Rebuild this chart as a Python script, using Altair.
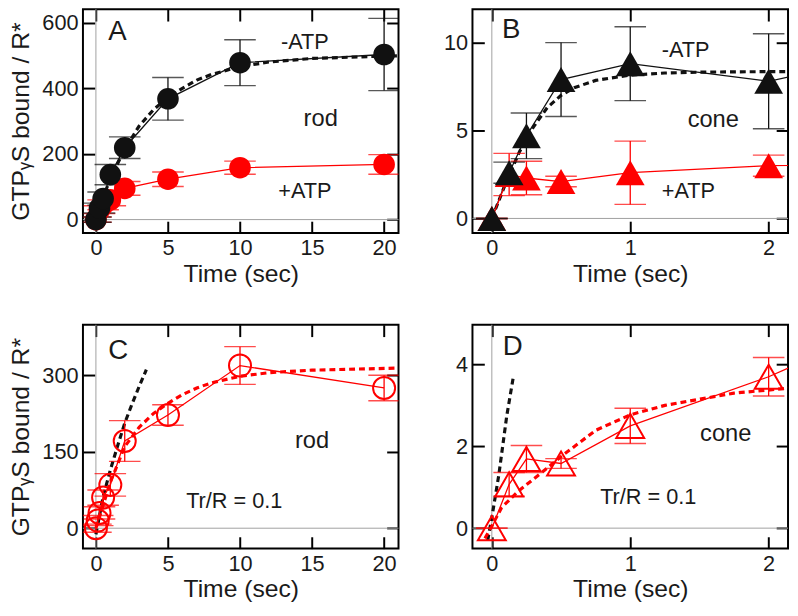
import altair as alt
import pandas as pd

FONT = "Liberation Sans"
RED = "#ff0000"
BLACK = "#111111"
GRAY = "#a0a0a0"
YTITLE = "GTPᵧS bound / R*"

# ---------------- data ----------------
# Panel A (rod, -ATP / +ATP)
a_time = [0, 0.25, 0.5, 1, 2, 5, 10, 20]
a_minus_atp = [0, 35, 64, 137, 219, 368, 478, 503]
a_minus_err = [8, 15, 20, 31, 33, 65, 70, 110]
a_plus_atp = [0, 30, 45, 60, 95, 123, 158, 168]
a_plus_err = [8, 12, 15, 18, 21, 22, 20, 30]
a_fit_time = [0, 0.5, 1, 2, 3, 4, 5, 6, 7, 8, 10, 12, 15, 20, 21]
a_fit_value = [0, 67, 125, 215, 285, 335, 372, 400, 425, 442, 466, 480, 491, 498, 499]

# Panel B (cone, -ATP / +ATP)
b_time = [0, 0.125, 0.25, 0.5, 1, 2, 3]
b_minus_atp = [0, 2.6, 4.7, 7.9, 8.8, 7.8, 9.5]
b_minus_err = [0, 0.6, 1.3, 2.1, 2.1, 2.7, 0]
b_plus_atp = [0, 2.5, 2.3, 2.1, 2.6, 3.0, 3.1]
b_plus_err = [0, 1.2, 0.95, 0.3, 1.8, 0.6, 0]
b_fit_time = [0, 0.1, 0.2, 0.3, 0.4, 0.5, 0.6, 0.75, 1.0, 1.25, 1.5, 2.0, 2.15]
b_fit_value = [0, 2.0, 3.8, 5.2, 6.3, 7.0, 7.45, 7.85, 8.15, 8.27, 8.32, 8.35, 8.35]

# Panel C (rod, Tr/R = 0.1)
c_time = [0, 0.125, 0.25, 0.5, 1, 2, 5, 10, 20]
c_value = [0, 15, 30, 60, 85, 171, 222, 319, 275]
c_err = [8, 10, 12, 15, 22, 40, 20, 37, 25]
c_fit_time = [0, 0.5, 1, 2, 3, 4, 5, 6, 7, 8, 10, 12, 15, 21]
c_fit_value = [0, 45, 90, 160, 198, 225, 245, 262, 275, 285, 298, 305, 310, 314]
c_init_time = [0, 0.5, 1, 1.5, 2, 2.5, 3, 3.5]
c_init_value = [-12, 62, 114, 161, 206, 243, 278, 311]

# Panel D (cone, Tr/R = 0.1)
d_time = [0, 0.125, 0.25, 0.5, 1, 2, 3]
d_value = [0, 1.07, 1.69, 1.58, 2.5, 3.7, 5.2]
d_err = [0, 0.29, 0.33, 0.12, 0.43, 0.47, 0]
d_fit_time = [-0.05, 0, 0.07, 0.19, 0.35, 0.52, 0.75, 1.0, 1.25, 1.5, 1.75, 2.15]
d_fit_value = [-0.25, 0.05, 0.5, 0.9, 1.33, 1.8, 2.39, 2.77, 3.0, 3.15, 3.3, 3.42]
d_init_time = [-0.03, 0, 0.05, 0.108, 0.155]
d_init_value = [-0.3, 0.26, 1.29, 2.75, 3.69]

x_ticks_rod = [0, 5, 10, 15, 20]
x_ticks_cone = [0, 1, 2]
y_ticks_a = [0, 200, 400, 600]
y_ticks_b = [0, 5, 10]
y_ticks_c = [0, 150, 300]
y_ticks_d = [0, 2, 4]

W = 320
H = 227
CAP = 32
ONE = pd.DataFrame({"k": [0]})


def series_df(t, v, err=None):
    d = {"t": t, "v": v}
    if err is not None:
        d["lo"] = [a - b for a, b in zip(v, err)]
        d["hi"] = [a + b for a, b in zip(v, err)]
    return pd.DataFrame(d)


def make_panel(xdom, ydom, xticks, yticks, ytitle, layers_fn, texts):
    xs = alt.Scale(domain=xdom, nice=False, zero=False)
    ys = alt.Scale(domain=ydom, nice=False, zero=False)
    common = dict(domain=False, grid=False, tickSize=12, offset=-12,
                  tickColor="black", tickWidth=2, minExtent=0)
    lab = dict(labelFont=FONT, labelFontSize=22, labelColor="#1a1a1a",
               labelPadding=5, labelFlush=False, labelOverlap=False,
               titleFont=FONT, titleFontSize=25, titleFontWeight="normal",
               titleColor="#1a1a1a")
    ax_bottom = alt.Axis(orient="bottom", values=xticks, title="Time (sec)",
                         titlePadding=3, **common, **lab)
    if ytitle:
        ax_left = alt.Axis(orient="left", values=yticks, title=ytitle,
                           titlePadding=8, **common, **lab)
    else:
        ax_left = alt.Axis(orient="left", values=yticks, title=None,
                           **common, **lab)
    ax_top = alt.Axis(orient="top", values=xticks, labels=False, title=None, **common)
    ax_right = alt.Axis(orient="right", values=yticks, labels=False, title=None, **common)

    def X(axis=None):
        return alt.X("t:Q", scale=xs, axis=axis)

    def Y(field="v", axis=None):
        return alt.Y(f"{field}:Q", scale=ys, axis=axis)

    layers = []
    # zero lines
    layers.append(alt.Chart(ONE).mark_rule(color=GRAY, strokeWidth=1).encode(
        y=alt.YDatum(0, scale=ys, axis=None)))
    layers.append(alt.Chart(ONE).mark_rule(color=GRAY, strokeWidth=1).encode(
        x=alt.XDatum(0, scale=xs, axis=None)))
    layers += layers_fn(X, Y, ax_bottom, ax_left, ax_top, ax_right)
    for txt, tx, ty, size in texts:
        layers.append(alt.Chart(ONE).mark_text(
            text=txt, font=FONT, fontSize=size, color="#1a1a1a",
            align="center", baseline="middle").encode(
            x=alt.XDatum(tx, scale=xs, axis=None),
            y=alt.YDatum(ty, scale=ys, axis=None)))
    return alt.layer(*layers).resolve_axis(x="independent", y="independent").properties(
        width=W, height=H)


def line(df, X, Y, color, dashed=False, axes=None):
    kw = dict(color=color, clip=True)
    if dashed:
        kw.update(strokeWidth=3.2, strokeDash=[6, 4])
    else:
        kw.update(strokeWidth=1.3)
    if axes:
        enc = dict(x=X(axes[0]), y=Y("v", axes[1]))
    else:
        enc = dict(x=X(), y=Y())
    return alt.Chart(df).mark_line(**kw).encode(**enc, order="t:Q")


def errbars(df, X, Y, color):
    r = alt.Chart(df).mark_rule(color=color, strokeWidth=1.3, clip=True).encode(
        x=X(), y=Y("lo"), y2="hi:Q")
    lo = alt.Chart(df).mark_tick(color=color, orient="horizontal", size=CAP,
                                 thickness=1.4, clip=True).encode(x=X(), y=Y("lo"))
    hi = alt.Chart(df).mark_tick(color=color, orient="horizontal", size=CAP,
                                 thickness=1.4, clip=True).encode(x=X(), y=Y("hi"))
    return [r, lo, hi]


def markers(df, X, Y, color, shape, size, filled):
    if filled:
        m = alt.Chart(df).mark_point(shape=shape, size=size, filled=True, color=color,
                                     opacity=1, clip=True)
    else:
        m = alt.Chart(df).mark_point(shape=shape, size=size, filled=False, color=color,
                                     strokeWidth=2, opacity=1, clip=True)
    return m.encode(x=X(), y=Y())


# ---------------- panel A ----------------
dfa_m = series_df(a_time, a_minus_atp, a_minus_err)
dfa_p = series_df(a_time, a_plus_atp, a_plus_err)
dfa_f = series_df(a_fit_time, a_fit_value)


def layers_a(X, Y, axb, axl, axt, axr):
    out = [line(dfa_f, X, Y, BLACK, dashed=True, axes=(axb, axl)),
           line(dfa_m, X, Y, BLACK, axes=(axt, axr)),
           line(dfa_p, X, Y, RED)]
    out += errbars(dfa_p, X, Y, RED)
    out += errbars(dfa_m, X, Y, BLACK)
    out.append(markers(dfa_p, X, Y, RED, "circle", 480, True))
    out.append(markers(dfa_m, X, Y, BLACK, "circle", 480, True))
    return out


panel_a = make_panel([-0.9, 21], [-41, 641], x_ticks_rod, y_ticks_a, YTITLE, layers_a,
                     [("A", 1.5, 570, 28), ("-ATP", 14.5, 541, 22),
                      ("rod", 15.6, 305, 24), ("+ATP", 14.5, 86, 22)])

# ---------------- panel B ----------------
dfb_m = series_df(b_time, b_minus_atp, b_minus_err)
dfb_p = series_df(b_time, b_plus_atp, b_plus_err)
dfb_f = series_df(b_fit_time, b_fit_value)


def layers_b(X, Y, axb, axl, axt, axr):
    out = [line(dfb_f, X, Y, BLACK, dashed=True, axes=(axb, axl)),
           line(dfb_m, X, Y, BLACK, axes=(axt, axr)),
           line(dfb_p, X, Y, RED)]
    out += errbars(dfb_p, X, Y, RED)
    out += errbars(dfb_m, X, Y, BLACK)
    out.append(markers(dfb_p, X, Y, RED, "triangle-up", 850, True))
    out.append(markers(dfb_m, X, Y, BLACK, "triangle-up", 850, True))
    return out


panel_b = make_panel([-0.14, 2.14], [-0.83, 11.9], x_ticks_cone, y_ticks_b, None, layers_b,
                     [("B", 0.14, 10.7, 28), ("-ATP", 1.4, 9.56, 22),
                      ("cone", 1.6, 5.6, 24), ("+ATP", 1.42, 1.55, 22)])

# ---------------- panel C ----------------
dfc = series_df(c_time, c_value, c_err)
dfc_f = series_df(c_fit_time, c_fit_value)
dfc_i = series_df(c_init_time, c_init_value)


def layers_c(X, Y, axb, axl, axt, axr):
    out = [line(dfc_i, X, Y, BLACK, dashed=True, axes=(axb, axl)),
           line(dfc_f, X, Y, RED, dashed=True, axes=(axt, axr)),
           line(dfc, X, Y, RED)]
    out += errbars(dfc, X, Y, RED)
    out.append(markers(dfc, X, Y, RED, "circle", 500, False))
    return out


panel_c = make_panel([-0.9, 21], [-40, 399], x_ticks_rod, y_ticks_c, YTITLE, layers_c,
                     [("C", 1.55, 348, 28), ("rod", 15.0, 171, 24),
                      ("Tr/R = 0.1", 9.6, 54, 22)])

# ---------------- panel D ----------------
dfd = series_df(d_time, d_value, d_err)
dfd_f = series_df(d_fit_time, d_fit_value)
dfd_i = series_df(d_init_time, d_init_value)


def layers_d(X, Y, axb, axl, axt, axr):
    out = [line(dfd_i, X, Y, BLACK, dashed=True, axes=(axb, axl)),
           line(dfd_f, X, Y, RED, dashed=True, axes=(axt, axr)),
           line(dfd, X, Y, RED)]
    out += errbars(dfd, X, Y, RED)
    out.append(markers(dfd, X, Y, RED, "triangle-up", 800, False))
    return out


panel_d = make_panel([-0.14, 2.14], [-0.5, 4.97], x_ticks_cone, y_ticks_d, None, layers_d,
                     [("D", 0.15, 4.42, 28), ("cone", 1.69, 2.31, 24),
                      ("Tr/R = 0.1", 1.13, 0.77, 22)])

chart = alt.concat(panel_a, panel_b, panel_c, panel_d, columns=2,
                   spacing={"row": 36, "column": 42}).properties(
    padding={"top": -5, "left": 0, "right": 0, "bottom": 0}
).configure_view(
    stroke="black", strokeWidth=2
)

chart.save("out.html", embed_options={"renderer": "svg", "actions": False})
